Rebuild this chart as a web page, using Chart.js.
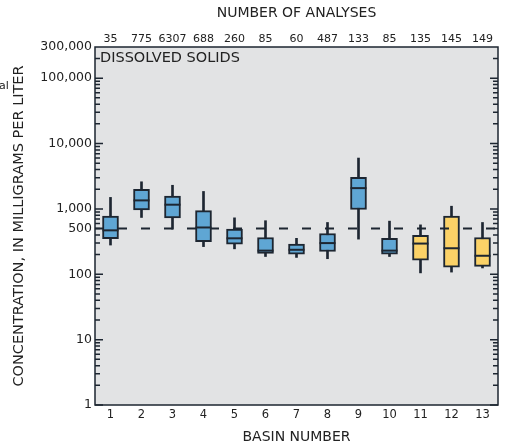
<!DOCTYPE html>
<html lang="en">
<head>
    <meta charset="UTF-8">
    <title>Dissolved solids by basin</title>
    <style>
        body {
            margin: 0;
            background-color: #ffffff;
        }
        .chart-container {
            width: 508px;
            height: 448px;
        }
    </style>
    <script src="https://cdn.jsdelivr.net/npm/chart.js"></script>
</head>
<body>
    <div class="chart-container">
        <canvas id="solidsChart"></canvas>
    </div>

    <script>
        // values (mg/L, log scale)
        var basins = ['1', '2', '3', '4', '5', '6', '7', '8', '9', '10', '11', '12', '13'];
        var analyses = ['35', '775', '6307', '688', '260', '85', '60', '487', '133', '85', '135', '145', '149'];
        var whiskerHigh = [1500, 2600, 2300, 1850, 730, 660, 355, 620, 6000, 650, 570, 1100, 620];
        var upperQuartile = [780, 2000, 1570, 940, 490, 365, 290, 420, 3050, 355, 395, 780, 365];
        var median = [470, 1350, 1160, 520, 355, 230, 237, 300, 2080, 230, 295, 250, 192];
        var lowerQuartile = [350, 965, 730, 315, 290, 208, 203, 223, 980, 203, 165, 128, 132];
        var whiskerLow = [280, 740, 490, 265, 245, 187, 181, 173, 345, 187, 105, 108, 125];
        var yTickValues = [1, 10, 100, 500, 1000, 10000, 100000, 300000];
        var referenceLevel = 500;
        var firstYellowBasin = 11;

        var ink = '#1d2631';
        var textColor = '#222222';
        var blue = '#5fa6d4';
        var yellow = '#fbd267';
        var font = '"DejaVu Sans", sans-serif';

        var decorations = {
            id: 'decorations',
            beforeDraw: function (chart) {
                var c = chart.ctx, a = chart.chartArea;
                c.save();
                c.fillStyle = '#e2e3e4';
                c.fillRect(a.left, a.top, a.right - a.left, a.bottom - a.top);
                c.restore();
            },
            afterDatasetsDraw: function (chart) {
                var c = chart.ctx, a = chart.chartArea, y = chart.scales.y;
                c.save();
                // reference line
                var ry = y.getPixelForValue(referenceLevel);
                c.strokeStyle = ink;
                c.lineWidth = 2;
                c.setLineDash([9, 14]);
                c.beginPath();
                c.moveTo(a.left, ry);
                c.lineTo(a.right, ry);
                c.stroke();
                c.setLineDash([]);

                // log ticks on both sides
                c.lineWidth = 1.5;
                c.beginPath();
                for (var d = 1; d <= 100000; d *= 10) {
                    for (var k = 1; k <= 9; k++) {
                        var v = d * k;
                        if (v >= 300000) break;
                        var py = y.getPixelForValue(v);
                        var len = k === 1 ? 8 : 5;
                        c.moveTo(a.left, py);
                        c.lineTo(a.left + len, py);
                        c.moveTo(a.right, py);
                        c.lineTo(a.right - len, py);
                    }
                }
                c.stroke();

                // frame
                c.lineWidth = 1.5;
                c.strokeRect(a.left, a.top, a.right - a.left, a.bottom - a.top);

                c.fillStyle = textColor;
                c.font = '14.5px ' + font;
                c.textBaseline = 'middle';
                c.textAlign = 'left';
                c.fillText('DISSOLVED SOLIDS', a.left + 5, a.top + 11);
                c.font = '11px ' + font;
                c.fillText('al', -1, 86);
                c.restore();
            }
        };

        function drawChart() {
            var ctx = document.getElementById('solidsChart').getContext('2d');
            new Chart(ctx, {
                type: 'bar',
                data: {
                    labels: basins,
                    datasets: [
                        {
                            type: 'line',
                            label: 'Median',
                            data: median,
                            showLine: false,
                            pointStyle: 'line',
                            pointRadius: 8,
                            borderColor: ink,
                            borderWidth: 2,
                            order: 0
                        },
                        {
                            label: 'Quartiles',
                            data: basins.map(function (_, i) { return [lowerQuartile[i], upperQuartile[i]]; }),
                            backgroundColor: function (c) { return c.dataIndex + 1 >= firstYellowBasin ? yellow : blue; },
                            borderColor: ink,
                            borderWidth: 2,
                            borderSkipped: false,
                            barThickness: 16,
                            grouped: false,
                            order: 1
                        },
                        {
                            label: 'Range',
                            data: basins.map(function (_, i) { return [whiskerLow[i], whiskerHigh[i]]; }),
                            backgroundColor: ink,
                            borderWidth: 0,
                            barThickness: 2,
                            grouped: false,
                            order: 2
                        }
                    ]
                },
                options: {
                    responsive: true,
                    maintainAspectRatio: false,
                    animation: false,
                    events: [],
                    layout: { padding: { left: 0, right: 2, top: 0, bottom: 0 } },
                    plugins: {
                        legend: { display: false },
                        tooltip: { enabled: false }
                    },
                    scales: {
                        x: {
                            type: 'category',
                            position: 'bottom',
                            offset: true,
                            grid: { display: false, drawTicks: false },
                            border: { display: false },
                            ticks: { color: textColor, font: { family: font, size: 11.5 }, padding: 3, autoSkip: false, maxRotation: 0 },
                            title: { display: true, text: 'BASIN NUMBER', color: textColor, font: { family: font, size: 14 }, padding: { top: 0, bottom: 2 } },
                            afterFit: function (s) { s.height = 43; }
                        },
                        xTop: {
                            type: 'category',
                            position: 'top',
                            labels: analyses,
                            offset: true,
                            grid: { display: false, drawTicks: false },
                            border: { display: false },
                            ticks: { color: textColor, font: { family: font, size: 11 }, padding: 1, autoSkip: false, maxRotation: 0 },
                            title: { display: true, text: 'NUMBER OF ANALYSES', color: textColor, font: { family: font, size: 14 }, padding: { top: 5, bottom: 0 } },
                            afterFit: function (s) { s.height = 47; }
                        },
                        y: {
                            type: 'logarithmic',
                            min: 1,
                            max: 300000,
                            grid: { display: false, drawTicks: false },
                            border: { display: false },
                            afterBuildTicks: function (s) {
                                s.ticks = yTickValues.map(function (v) { return { value: v }; });
                            },
                            ticks: {
                                color: textColor,
                                font: { family: font, size: 12.5 },
                                padding: 3,
                                autoSkip: false,
                                callback: function (v) { return Number(v).toLocaleString('en-US'); }
                            },
                            title: { display: true, text: 'CONCENTRATION, IN MILLIGRAMS PER LITER', color: textColor, font: { family: font, size: 14.5 }, padding: { top: 11, bottom: 0 } },
                            afterFit: function (s) { s.width = 95; }
                        }
                    }
                },
                plugins: [decorations]
            });
        }

        document.addEventListener('DOMContentLoaded', drawChart);
    </script>
</body>
</html>
